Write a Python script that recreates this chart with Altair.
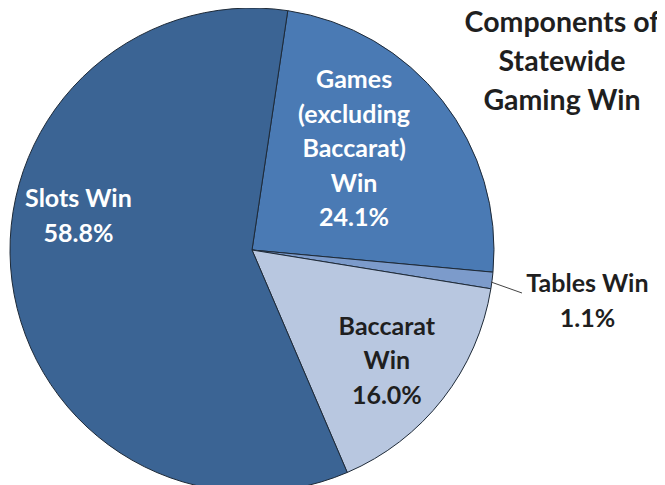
import math
import altair as alt
import pandas as pd

categories = ["Games (excluding Baccarat) Win", "Tables Win", "Baccarat Win", "Slots Win"]
shares = [24.1, 1.1, 16.0, 58.8]
labels = ["Games\n(excluding\nBaccarat)\nWin\n24.1%", "Tables Win\n1.1%", "Baccarat\nWin\n16.0%", "Slots Win\n58.8%"]
slice_order = [0, 1, 2, 3]
colors = ["#4a7ab4", "#7c9bcb", "#b8c7e0", "#3b6494"]
title_text = ["Components of\nStatewide\nGaming Win"]

df = pd.DataFrame({"category": categories, "share": shares, "label": labels, "order": slice_order})

start = math.radians(8.5)
theta = alt.Theta("share:Q", stack=True,
                  scale=alt.Scale(domain=[0, 100], range=[start, start + 2 * math.pi]))
color = alt.Color("category:N", scale=alt.Scale(domain=categories, range=colors), legend=None)
order = alt.Order("order:Q")

base = alt.Chart(df)

arcs = base.mark_arc(outerRadius=242, stroke="#1e2a38", strokeWidth=1).encode(
    theta=theta, color=color, order=order
)

FONT = "Lato"
FS = 25
LH = 34.5


def label_layer(cat, radius, dx, dy, fill):
    return base.mark_text(
        radius=radius, dx=dx, dy=dy, font=FONT, fontSize=FS, fontWeight="bold",
        lineBreak="\n", lineHeight=LH, align="center", baseline="middle", fill=fill
    ).encode(
        theta=theta, order=order,
        text=alt.condition(alt.datum.category == cat, alt.Text("label:N"), alt.value("")),
    )


games_lbl = label_layer(categories[0], 145, -12, -80, "white")
tables_lbl = label_layer(categories[1], 320, 18, -6, "#1f1f1f")
bacc_lbl = label_layer(categories[2], 175, -3, -31, "#1f1f1f")
slots_lbl = label_layer(categories[3], 175, 0, -73, "white")

leader = alt.Chart(pd.DataFrame({"k": [0]})).mark_rule(color="#444", strokeWidth=1).encode(
    x=alt.value(483), y=alt.value(274), x2=alt.value(514), y2=alt.value(285)
)

title = alt.Chart(pd.DataFrame({"t": title_text})).mark_text(
    font=FONT, fontSize=28.5, fontWeight="bold", lineBreak="\n", lineHeight=39,
    align="center", baseline="alphabetic", fill="#1f1f1f"
).encode(text="t:N", x=alt.value(554), y=alt.value(24))

chart = alt.layer(arcs, games_lbl, tables_lbl, bacc_lbl, slots_lbl, leader, title).properties(
    width=488, height=484,
    autosize="none",
    padding={"left": 0, "top": 0, "right": 161, "bottom": 0},
).configure(background="white").configure_view(stroke=None)

chart.save("out.html", embed_options={"renderer": "svg", "actions": False})
